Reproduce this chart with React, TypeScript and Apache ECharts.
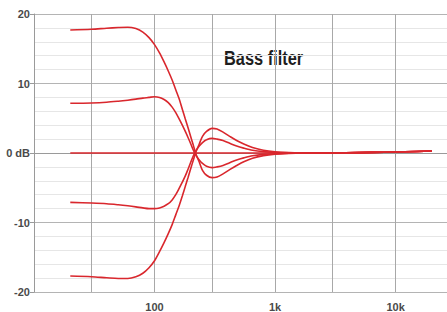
import React, { useEffect, useRef } from "react";
import * as echarts from "echarts";

const freqs = [20, 30, 40, 50, 60, 70, 80, 90, 100, 110, 120, 130, 140, 150, 160, 170, 180, 190, 200, 210, 220, 235, 250, 270, 300, 330, 370, 420, 480, 550, 650, 800, 1000, 1300, 1700, 2200, 3000, 5000, 8000, 12000, 20000];

const boost18 = [17.7, 17.8, 17.95, 18.05, 18.1, 17.9, 17.4, 16.6, 15.6, 14.4, 13.1, 11.8, 10.5, 9.1, 7.8, 6.3, 4.9, 3.6, 2.3, 1.1, -0.1, -1.3, -2.5, -3.2, -3.55, -3.45, -3.0, -2.4, -1.8, -1.25, -0.75, -0.38, -0.16, -0.05, 0, 0, 0.02, 0.06, 0.11, 0.17, 0.28];
const boost7 = [7.15, 7.2, 7.3, 7.45, 7.6, 7.75, 7.9, 8.0, 8.1, 8.0, 7.7, 7.25, 6.6, 5.8, 4.9, 4.0, 3.1, 2.2, 1.3, 0.4, -0.3, -1.0, -1.5, -1.9, -2.1, -2.0, -1.8, -1.4, -1.0, -0.7, -0.4, -0.2, -0.1, -0.03, 0, 0, 0.02, 0.06, 0.11, 0.17, 0.28];
const flat = [0, 0, 0, 0, 0, 0, 0, 0, 0, 0, 0, 0, 0, 0, 0, 0, 0, 0, 0, 0, 0, 0, 0, 0, 0, 0, 0, 0, 0, 0, 0, 0, 0, 0, 0, 0, 0.02, 0.06, 0.11, 0.17, 0.28];
const cut7 = [-7.1, -7.2, -7.3, -7.45, -7.6, -7.75, -7.9, -8.0, -8.0, -7.9, -7.65, -7.3, -6.75, -6.0, -5.1, -4.2, -3.3, -2.3, -1.3, -0.4, 0.3, 1.0, 1.5, 1.9, 2.1, 2.0, 1.8, 1.4, 1.0, 0.7, 0.4, 0.2, 0.1, 0.04, 0.01, 0, 0.02, 0.06, 0.11, 0.17, 0.28];
const cut18 = [-17.7, -17.8, -17.95, -18.05, -18.05, -17.8, -17.3, -16.5, -15.5, -14.2, -12.9, -11.6, -10.3, -8.9, -7.6, -6.2, -4.8, -3.5, -2.2, -1.0, 0.1, 1.3, 2.4, 3.1, 3.55, 3.45, 3.0, 2.4, 1.8, 1.3, 0.8, 0.4, 0.18, 0.07, 0.02, 0, 0.02, 0.06, 0.11, 0.17, 0.28];

const curves = [boost18, boost7, flat, cut7, cut18];

const gridFreqs = [30, 100, 300, 1000, 3000, 10000];
const labelFreqs = [100, 1000, 10000];
const freqMin = 10;
const freqMax = 26700;
const dbTicks = [-20, -10, 0, 10, 20];
const title = "Bass filter";

const fmtFreq = (f: number) => (f >= 1000 ? `${Math.round(f / 1000)}k` : `${Math.round(f)}`);

export default function App() {
  const ref = useRef<HTMLDivElement>(null);
  useEffect(() => {
    document.body.style.margin = "0";
    if (!ref.current) return;
    const chart = echarts.init(ref.current, null, { renderer: "svg" });
    const red = "#d9272d";
    chart.setOption({
      animation: false,
      backgroundColor: "#ffffff",
      grid: { left: 34, right: 0, top: 14, bottom: 16, containLabel: false },
      xAxis: {
        type: "value",
        min: Math.log10(freqMin),
        max: Math.log10(freqMax),
        axisLine: { show: true, lineStyle: { color: "#9a9a9a", width: 1 } },
        axisTick: {
          show: true,
          length: 4,
          inside: false,
          customValues: gridFreqs.map((f) => Math.log10(f)),
          lineStyle: { color: "#9a9a9a" },
        },
        axisLabel: {
          customValues: labelFreqs.map((f) => Math.log10(f)),
          formatter: (v: number) => fmtFreq(Math.pow(10, v)),
          color: "#4a4a4a",
          fontSize: 11,
          fontWeight: "bold",
          fontFamily: "Liberation Sans, Arial, sans-serif",
          margin: 9,
        },
        splitLine: { show: true, lineStyle: { color: "#a8a8a8", width: 1 } },
      },
      yAxis: {
        type: "value",
        min: dbTicks[0],
        max: dbTicks[dbTicks.length - 1],
        interval: 10,
        axisLine: { show: true, lineStyle: { color: "#9a9a9a", width: 1 } },
        axisTick: { show: true, length: 4, inside: false, lineStyle: { color: "#9a9a9a" } },
        axisLabel: {
          formatter: (v: number) => (v === 0 ? "0 dB" : String(v)),
          color: "#4a4a4a",
          fontSize: 11,
          fontWeight: "bold",
          fontFamily: "Liberation Sans, Arial, sans-serif",
          margin: 4,
        },
        splitLine: { show: true, lineStyle: { color: "#b4b4b4", width: 1 } },
        minorTick: { show: false, splitNumber: 5 },
        minorSplitLine: { show: true, lineStyle: { color: "#e6e6e6", width: 1 } },
      },
      series: curves.map((vals) => ({
        type: "line",
        smooth: 0.3,
        showSymbol: false,
        symbol: "none",
        data: freqs.map((f, i) => [Math.log10(f), vals[i]]),
        lineStyle: { color: red, width: 1.6 },
        z: 3,
      })),
      graphic: [
        {
          type: "text",
          x: 224,
          y: 47,
          scaleX: 0.78,
          style: {
            text: title,
            fill: "#1e1e1e",
            fontSize: 21,
            fontWeight: "bold",
            fontFamily: "Liberation Sans, Arial, sans-serif",
          },
        },
      ],
    });
    return () => chart.dispose();
  }, []);
  return <div ref={ref} style={{ width: 447, height: 312, position: "fixed", left: 0, top: 0 }} />;
}
